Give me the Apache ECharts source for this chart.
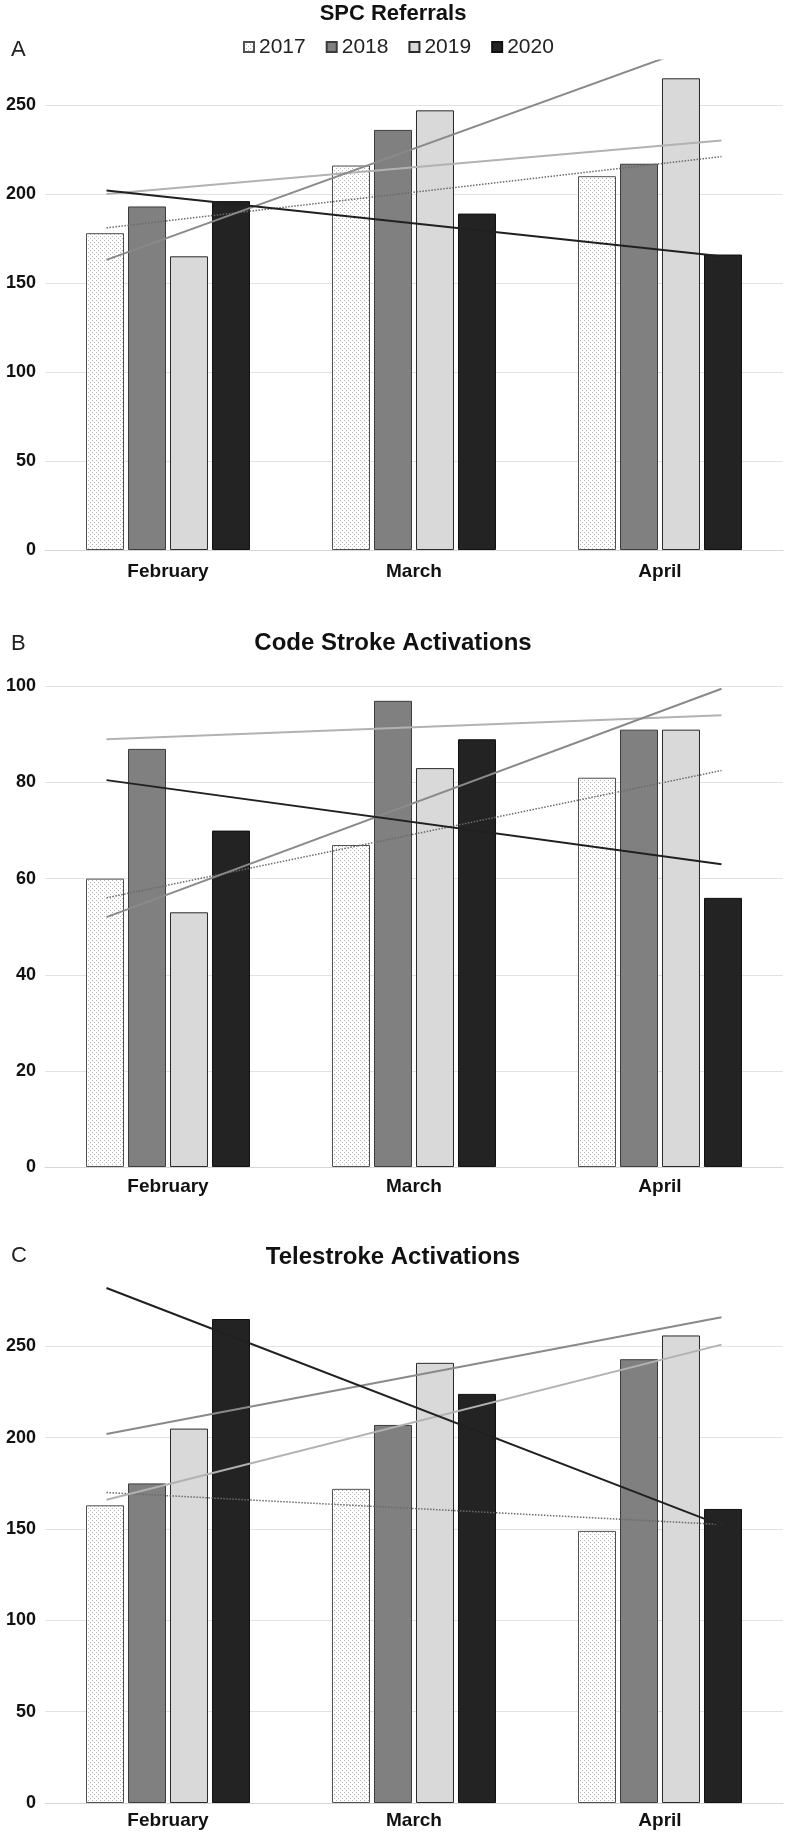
<!DOCTYPE html>
<html>
<head>
<meta charset="utf-8">
<script src="https://cdn.jsdelivr.net/npm/echarts@6/dist/echarts.min.js"></script>
<style>
html,body{margin:0;padding:0;background:#fff;}
#c{width:786px;height:1834px;}
</style>
</head>
<body>
<div id="c"></div>
<script>
// ---------- data ----------
const categories = ['February', 'March', 'April'];
const years = ['2017', '2018', '2019', '2020'];
const chartTitles = ['SPC Referrals', 'Code Stroke Activations', 'Telestroke Activations'];
const panelLetters = ['A', 'B', 'C'];

// A: SPC Referrals
const spc2017 = [178, 216, 210];
const spc2018 = [193, 236, 217];
const spc2019 = [165, 247, 265];
const spc2020 = [196, 189, 166];
// trend line end values (start, end)
const spcTrend2017 = [181, 221];
const spcTrend2018 = [200, 230];
const spcTrend2019 = [163, 288];
const spcTrend2020 = [202, 165];
const spcTicks = [0, 50, 100, 150, 200, 250];

// B: Code Stroke Activations
const cs2017 = [60, 67, 81];
const cs2018 = [87, 97, 91];
const cs2019 = [53, 83, 91];
const cs2020 = [70, 89, 56];
const csTrend2017 = [56, 82.5];
const csTrend2018 = [89, 94];
const csTrend2019 = [52, 99.5];
const csTrend2020 = [80.5, 63];
const csTicks = [0, 20, 40, 60, 80, 100];

// C: Telestroke Activations
const ts2017 = [163, 172, 149];
const ts2018 = [175, 207, 243];
const ts2019 = [205, 241, 256];
const ts2020 = [265, 224, 161];
const tsTrend2017 = [170, 152.5];
const tsTrend2018 = [166, 251];
const tsTrend2019 = [202, 266];
const tsTrend2020 = [282, 152];
const tsTicks = [0, 50, 100, 150, 200, 250];

// ---------- styling / layout ----------
const FONT = "'Liberation Sans', Arial, Helvetica, sans-serif";
const pc = document.createElement('canvas');
pc.width = 4; pc.height = 4;
const px = pc.getContext('2d');
px.fillStyle = '#ffffff'; px.fillRect(0, 0, 4, 4);
px.fillStyle = '#b4b4b4';
px.fillRect(0, 0, 1, 1);
px.fillRect(2, 2, 1, 1);
const dotPattern = { image: pc, repeat: 'repeat' };

const barStyles = [
  { color: dotPattern, borderColor: '#505050', borderWidth: 1 },
  { color: '#808080', borderColor: '#3c3c3c', borderWidth: 1 },
  { color: '#d9d9d9', borderColor: '#2a2a2a', borderWidth: 1 },
  { color: '#232323', borderColor: '#111111', borderWidth: 1 }
];
const trendStyles = [
  { color: '#6a6a6a', width: 1.5, type: 'dotted' },
  { color: '#b2b2b2', width: 2, type: 'solid' },
  { color: '#8a8a8a', width: 2, type: 'solid' },
  { color: '#202020', width: 2, type: 'solid' }
];

const panels = [
  { bars: [spc2017, spc2018, spc2019, spc2020], trends: [spcTrend2017, spcTrend2018, spcTrend2019, spcTrend2020],
    ticks: spcTicks, max: 275, top: 60.5, height: 489.5, labelMargin: 12,
    titleTop: 2.5, titleSize: 22, letterTop: 39 },
  { bars: [cs2017, cs2018, cs2019, cs2020], trends: [csTrend2017, csTrend2018, csTrend2019, csTrend2020],
    ticks: csTicks, max: 100, top: 686.4, height: 480.6, labelMargin: 10,
    titleTop: 631.5, titleSize: 24, letterTop: 633 },
  { bars: [ts2017, ts2018, ts2019, ts2020], trends: [tsTrend2017, tsTrend2018, tsTrend2019, tsTrend2020],
    ticks: tsTicks, max: 285, top: 1282.5, height: 520.5, labelMargin: 8,
    titleTop: 1245.5, titleSize: 24, letterTop: 1245 }
];
// trendlines extend a quarter period before the first and after the last category
const trendFrom = -0.25, trendTo = categories.length - 1 + 0.25;

const grid = [], xAxis = [], yAxis = [], series = [], title = [];
panels.forEach((p, i) => {
  grid.push({ left: 45, width: 738, top: p.top, height: p.height });
  title.push({ text: chartTitles[i], left: 'center', top: p.titleTop, padding: 0,
    textStyle: { fontFamily: FONT, fontSize: p.titleSize, fontWeight: 'bold', color: '#111' } });
  title.push({ text: panelLetters[i], left: 11, top: p.letterTop, padding: 0,
    textStyle: { fontFamily: FONT, fontSize: 22, fontWeight: 'normal', color: '#222' } });
  xAxis.push({
    type: 'category', gridIndex: i, data: categories,
    axisLine: { show: true, lineStyle: { color: '#d6d6d6', width: 1 } },
    axisTick: { show: false },
    axisLabel: { fontFamily: FONT, fontSize: 19, fontWeight: 'bold', color: '#111', margin: p.labelMargin },
    splitLine: { show: false }
  });
  const step = p.ticks[1] - p.ticks[0];
  yAxis.push({
    type: 'value', gridIndex: i, min: p.ticks[0], max: p.max, interval: step,
    axisLine: { show: false }, axisTick: { show: false },
    axisLabel: { fontFamily: FONT, fontSize: 18, fontWeight: 'bold', color: '#111', margin: 9,
      showMaxLabel: p.max === p.ticks[p.ticks.length - 1],
      formatter: v => (p.ticks.indexOf(v) >= 0 ? String(v) : '') },
    splitLine: { show: true, showMinLine: false, showMaxLine: p.max === p.ticks[p.ticks.length - 1],
      lineStyle: { color: '#e2e2e2', width: 1 } }
  });
  years.forEach((y, k) => {
    series.push({
      type: 'bar', name: y, xAxisIndex: i, yAxisIndex: i,
      data: p.bars[k], barWidth: 38, barGap: '10.5%',
      itemStyle: barStyles[k], emphasis: { disabled: true }, animation: false, z: 2
    });
  });
});
panels.forEach((p, i) => {
  xAxis.push({ type: 'value', gridIndex: i, min: -0.5, max: categories.length - 0.5, show: false });
  years.forEach((y, k) => {
    series.push({
      type: 'line', name: 'trend ' + y, xAxisIndex: 3 + i, yAxisIndex: i,
      data: [[trendFrom, p.trends[k][0]], [trendTo, p.trends[k][1]]],
      symbol: 'none', clip: true, lineStyle: trendStyles[k], silent: true, animation: false, z: 5
    });
  });
});

const chart = echarts.init(document.getElementById('c'), null, { renderer: 'canvas' });
chart.setOption({
  backgroundColor: '#ffffff',
  animation: false,
  title: title,
  legend: {
    data: years, left: 243, top: 36.5, padding: 0,
    itemWidth: 10, itemHeight: 10, itemGap: 20, icon: 'rect',
    textStyle: { fontFamily: FONT, fontSize: 21, color: '#222' },
    selectedMode: false
  },
  grid: grid, xAxis: xAxis, yAxis: yAxis, series: series
});
</script>
</body>
</html>
